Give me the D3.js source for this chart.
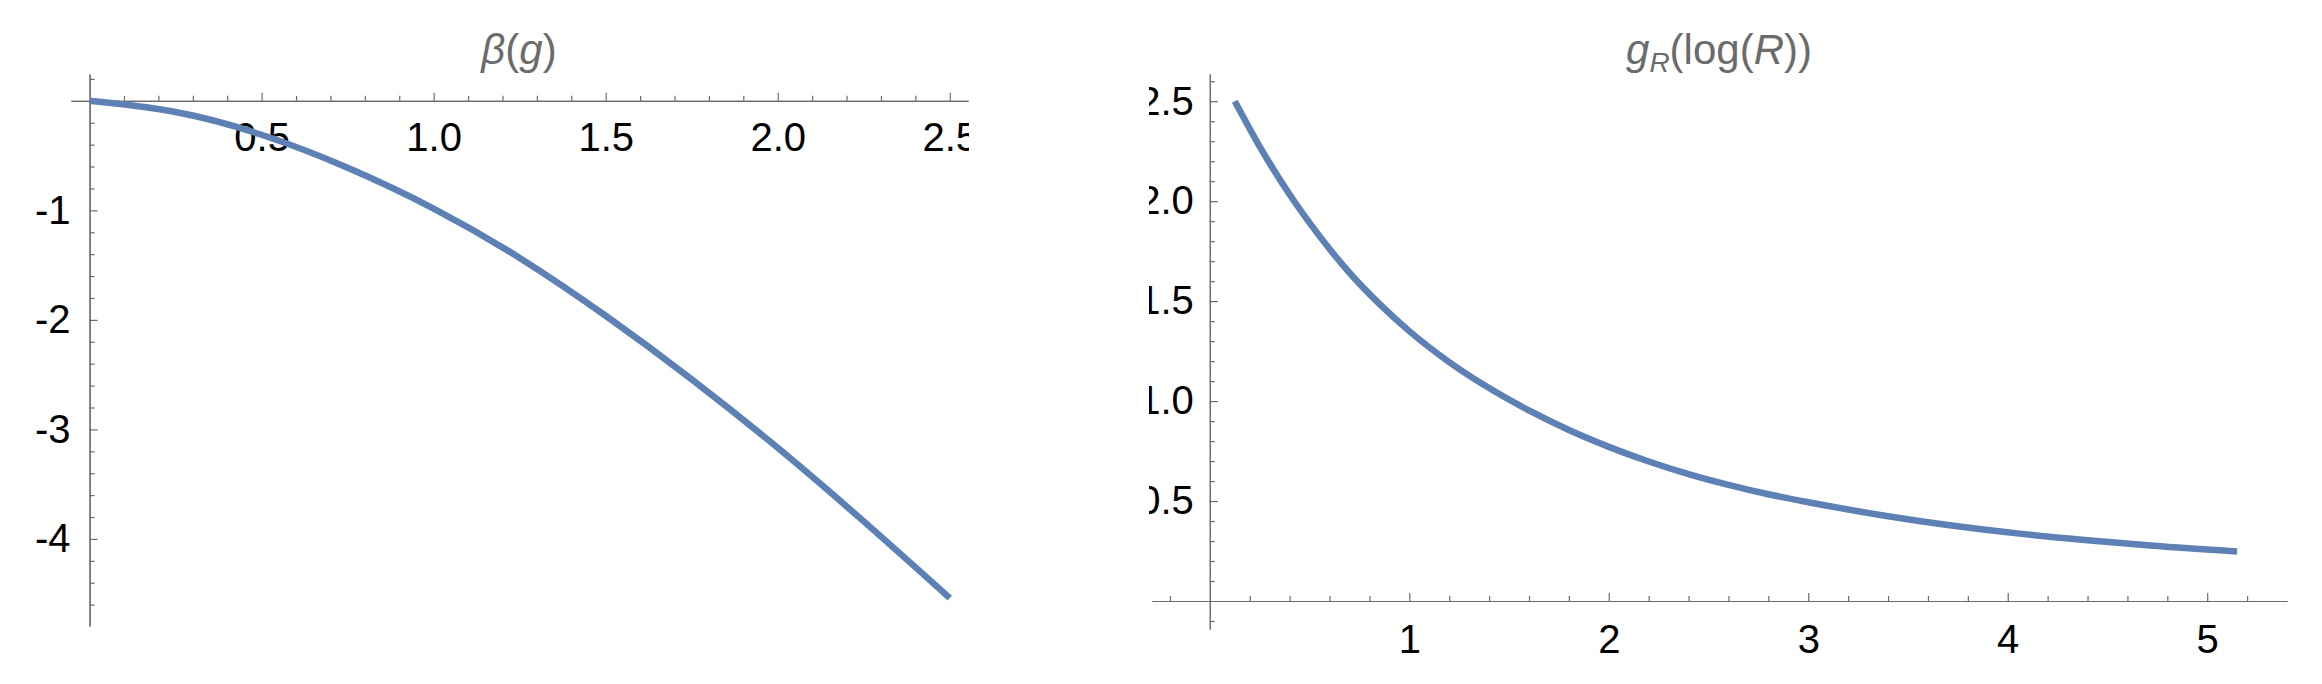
<!DOCTYPE html>
<html>
  <head>
    <meta charset="utf-8" />
    <script src="https://d3js.org/d3.v7.min.js"></script>
    <style>
      body { margin: 0; background: #fff; }
      text { font-family: "Liberation Sans", Arial, sans-serif; }
      .tick text { fill: #000; font-size: 40px; }
      .domain, .tick line { stroke: #6b6b6b; stroke-width: 1.2px; }
      .title { fill: #6b6b6b; font-size: 42px; }
    </style>
  </head>
  <body>
    <svg id="chart" width="2322" height="684"></svg>
    <script>
      // left panel: beta function beta(g)
      const gVals = [0, 0.25, 0.5, 0.75, 1.0, 1.25, 1.5, 1.75, 2.0, 2.25, 2.5];
      const betaVals = [0, -0.08, -0.295, -0.6, -0.97, -1.42, -1.955, -2.535,
        -3.16, -3.835, -4.54];
      const betaXTicks = [0.5, 1.0, 1.5, 2.0, 2.5];
      const betaYTicks = [-1, -2, -3, -4];

      // right panel: running coupling g_R(log R)
      const logRVals = [0.125, 0.25, 0.4, 0.55, 0.7, 0.85, 1.0, 1.2, 1.4, 1.6, 1.8, 2.0,
        2.2, 2.4, 2.6, 2.8, 3.0, 3.4, 3.7, 4.06, 4.4, 4.73, 5.15];
      const gRVals = [2.5, 2.273, 2.033, 1.825, 1.642, 1.486, 1.35, 1.195, 1.065, 0.953,
        0.855, 0.771, 0.698, 0.635, 0.581, 0.534, 0.494, 0.424, 0.38, 0.337, 0.304,
        0.276, 0.248];
      const gRXTicks = [1, 2, 3, 4, 5];
      const gRYTicks = [0.5, 1.0, 1.5, 2.0, 2.5];

      const svg = d3.select("#chart");
      const defs = svg.append("defs");
      const lineColor = "#5e81b5";

      function panel(opts) {
        defs.append("clipPath").attr("id", opts.id)
          .append("rect")
          .attr("x", opts.clip[0]).attr("y", 0)
          .attr("width", opts.clip[1] - opts.clip[0]).attr("height", 684);

        const g = svg.append("g").attr("clip-path", `url(#${opts.id})`);
        const x = d3.scaleLinear().domain(opts.xDomain).range(opts.xRange);
        const y = d3.scaleLinear().domain(opts.yDomain).range(opts.yRange);
        const x0 = x(0), y0 = y(0);

        // minor + major ticks, Mathematica style (drawn above / right of the axes)
        const xMinor = d3.range(opts.xMinor[0], opts.xMinor[1] + 1e-9, opts.xMinor[2])
          .filter(v => Math.abs(v) > 1e-9 && !opts.xMajor.some(m => Math.abs(m - v) < 1e-9));
        const yMinor = d3.range(opts.yMinor[0], opts.yMinor[1] + 1e-9, opts.yMinor[2])
          .filter(v => Math.abs(v) > 1e-9 && !opts.yMajor.some(m => Math.abs(m - v) < 1e-9));

        g.append("g").attr("transform", `translate(0,${y0})`)
          .call(d3.axisTop(x).tickValues(xMinor).tickSize(5).tickSizeOuter(0).tickFormat(""));
        g.append("g").attr("transform", `translate(0,${y0})`)
          .call(d3.axisTop(x).tickValues(opts.xMajor).tickSize(8).tickSizeOuter(0).tickFormat(""));
        g.append("g").attr("transform", `translate(0,${y0})`)
          .call(d3.axisBottom(x).tickValues(opts.xMajor).tickSize(0).tickPadding(opts.xPad)
            .tickFormat(opts.xFmt))
          .call(s => s.select(".domain").remove());

        g.append("g").attr("transform", `translate(${x0},0)`)
          .call(d3.axisRight(y).tickValues(yMinor).tickSize(5).tickSizeOuter(0).tickFormat(""));
        g.append("g").attr("transform", `translate(${x0},0)`)
          .call(d3.axisRight(y).tickValues(opts.yMajor).tickSize(8).tickSizeOuter(0).tickFormat(""));
        g.append("g").attr("transform", `translate(${x0},0)`)
          .call(d3.axisLeft(y).tickValues(opts.yMajor).tickSize(0).tickPadding(opts.yPad)
            .tickFormat(opts.yFmt))
          .call(s => s.select(".domain").remove());

        const line = d3.line()
          .x((d, i) => x(opts.xs[i]))
          .y((d, i) => y(opts.ys[i]))
          .curve(opts.curve);
        g.append("path")
          .datum(opts.xs)
          .attr("d", line)
          .attr("fill", "none")
          .attr("stroke", lineColor)
          .attr("stroke-width", 6.5);

        const t = g.append("text").attr("class", "title")
          .attr("x", opts.titleX).attr("y", 64).attr("text-anchor", "middle");
        opts.title(t);
      }

      panel({
        id: "clipL", clip: [0, 969],
        xDomain: [-0.054, 2.553], xRange: [71, 968],
        yDomain: [0.245, -4.795], yRange: [74, 626],
        xMajor: betaXTicks, xMinor: [0.1, 2.5, 0.1],
        yMajor: betaYTicks, yMinor: [-4.6, 0.2, 0.2],
        xPad: 22, yPad: 19,
        xFmt: d3.format(".1f"), yFmt: d => String(d),
        xs: gVals, ys: betaVals, curve: d3.curveBasis,
        titleX: 519,
        title: t => {
          t.append("tspan").attr("font-style", "italic").text("β");
          t.append("tspan").text("(");
          t.append("tspan").attr("font-style", "italic").text("g");
          t.append("tspan").text(")");
        }
      });

      panel({
        id: "clipR", clip: [1149, 2322],
        xDomain: [-0.29, 5.40], xRange: [1152, 2287],
        yDomain: [2.636, -0.14], yRange: [74, 629],
        xMajor: gRXTicks, xMinor: [-0.2, 5.2, 0.2],
        yMajor: gRYTicks, yMinor: [-0.1, 2.6, 0.1],
        xPad: 24, yPad: 16,
        xFmt: d3.format("d"), yFmt: d3.format(".1f"),
        xs: logRVals, ys: gRVals, curve: d3.curveMonotoneX,
        titleX: 1719,
        title: t => {
          t.append("tspan").attr("font-style", "italic").text("g");
          t.append("tspan").attr("font-style", "italic").attr("font-size", "28px")
            .attr("dy", 8).text("R");
          t.append("tspan").attr("dy", -8).text("(log(");
          t.append("tspan").attr("font-style", "italic").text("R");
          t.append("tspan").text("))");
        }
      });
    </script>
  </body>
</html>
